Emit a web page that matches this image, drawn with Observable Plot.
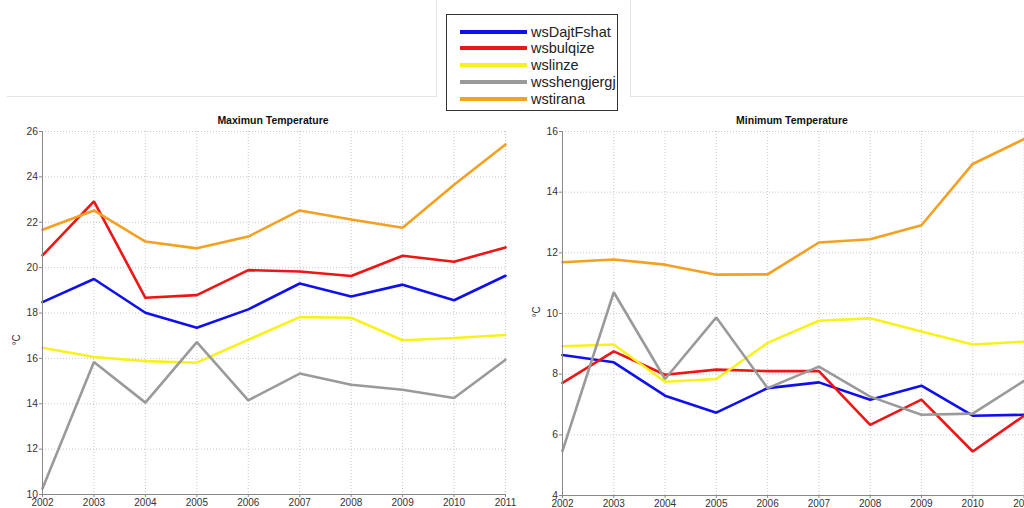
<!DOCTYPE html>
<html>
<head>
<meta charset="utf-8">
<script src="https://cdn.jsdelivr.net/npm/d3@7"></script>
<script src="https://cdn.jsdelivr.net/npm/@observablehq/plot@0.6"></script>
<style>
  html, body { margin:0; padding:0; width:1024px; height:508px; overflow:hidden; background:#fff; font-family:"Liberation Sans", Arial, sans-serif; }
  .abs { position:absolute; }
  .title { position:absolute; font-weight:bold; font-size:10.5px; color:#111; transform:translate(-50%,-50%); white-space:nowrap; }
  .unit { position:absolute; font-size:10px; color:#333; transform:translate(-50%,-50%) rotate(-90deg); white-space:nowrap; }
  #legend { position:absolute; left:446px; top:14px; width:172px; height:97px; border:1.6px solid #333; background:#fff; box-sizing:border-box; }
  .lrow { position:absolute; left:13px; height:17px; display:flex; align-items:center; }
  .lsw { width:67px; height:4px; margin-right:4px; }
  .ltx { font-size:14.5px; color:#222; }
</style>
</head>
<body>
<script>
const years = [2002, 2003, 2004, 2005, 2006, 2007, 2008, 2009, 2010, 2011];
const stations = ["wsDajtFshat", "wsbulqize", "wslinze", "wsshengjergj", "wstirana"];
const stationColors = ["#1010ee", "#ee1515", "#f7f21a", "#9a9a9a", "#f5a020"];

// Maximum temperature (°C)
const maxDajtFshat  = [18.48, 19.50, 18.01, 17.35, 18.16, 19.30, 18.73, 19.25, 18.56, 19.64];
const maxBulqize    = [20.54, 22.92, 18.67, 18.79, 19.89, 19.83, 19.63, 20.52, 20.26, 20.89];
const maxLinze      = [16.47, 16.06, 15.88, 15.81, 16.82, 17.82, 17.79, 16.80, 16.90, 17.03];
const maxShengjergj = [10.26, 15.84, 14.05, 16.72, 14.15, 15.33, 14.84, 14.62, 14.25, 15.94];
const maxTirana     = [21.67, 22.52, 21.15, 20.85, 21.37, 22.52, 22.12, 21.76, 23.65, 25.43];

// Minimum temperature (°C)
const minDajtFshat  = [8.63, 8.39, 7.29, 6.73, 7.54, 7.73, 7.16, 7.62, 6.63, 6.66];
const minBulqize    = [7.71, 8.75, 7.98, 8.15, 8.10, 8.10, 6.33, 7.16, 5.45, 6.63];
const minLinze      = [8.92, 8.98, 7.75, 7.84, 9.03, 9.76, 9.84, 9.41, 8.98, 9.07];
const minShengjergj = [5.47, 10.70, 7.84, 9.87, 7.54, 8.25, 7.26, 6.66, 6.70, 7.78];
const minTirana     = [11.69, 11.78, 11.61, 11.28, 11.29, 12.34, 12.45, 12.91, 14.93, 15.75];

const maxTicks = [10, 12, 14, 16, 18, 20, 22, 24, 26];
const minTicks = [4, 6, 8, 10, 12, 14, 16];

function toRows(seriesList) {
  const rows = [];
  seriesList.forEach((vals, si) => {
    vals.forEach((v, i) => rows.push({station: stations[si], year: years[i], value: v}));
  });
  return rows;
}
const maxRows = toRows([maxDajtFshat, maxBulqize, maxLinze, maxShengjergj, maxTirana]);
const minRows = toRows([minDajtFshat, minBulqize, minLinze, minShengjergj, minTirana]);

function panel(rows, yTicks, opts) {
  const yDomain = [yTicks[0], yTicks[yTicks.length - 1]];
  return Plot.plot({
    width: opts.width, height: opts.height,
    marginLeft: opts.ml, marginRight: opts.mr, marginTop: opts.mt, marginBottom: opts.mb,
    style: {fontFamily: '"Liberation Sans", Arial, sans-serif', fontSize: "10.5px", color: "#333", background: "transparent", overflow: "visible"},
    x: {domain: [years[0], years[years.length - 1]], label: null},
    y: {domain: yDomain, label: null},
    color: {domain: stations, range: stationColors},
    marks: [
      Plot.gridX(years, {stroke: "#c8c8c8", strokeOpacity: 1, strokeDasharray: "1,2"}),
      Plot.gridY(yTicks, {stroke: "#c8c8c8", strokeOpacity: 1, strokeDasharray: "1,2"}),
      Plot.line(rows, {x: "year", y: "value", z: "station", stroke: "station", strokeWidth: 2.6, strokeLinejoin: "miter"}),
      Plot.ruleX([years[0]], {stroke: "#888", strokeWidth: 1}),
      Plot.ruleY([yDomain[0]], {stroke: "#888", strokeWidth: 1}),
      Plot.axisX(years, {tickFormat: "d", tickSize: 3, tickPadding: 1, stroke: "#888", fill: "#333", fontSize: 10, label: null}),
      Plot.axisY(yTicks, {tickSize: 3, tickPadding: 1.5, stroke: "#888", fill: "#333", fontSize: 10.3, label: null})
    ]
  });
}

const left = panel(maxRows, maxTicks, {width: 520, height: 408, ml: 42, mr: 15, mt: 31, mb: 14});
left.style.position = "absolute"; left.style.left = "0px"; left.style.top = "100px";
document.body.appendChild(left);

const right = panel(minRows, minTicks, {width: 540, height: 408, ml: 52, mr: 26.5, mt: 31, mb: 13});
right.style.position = "absolute"; right.style.left = "510px"; right.style.top = "100px";
document.body.appendChild(right);

// faint frame lines behind the legend
function line(l, t, w, h) {
  const d = document.createElement("div");
  d.className = "abs";
  Object.assign(d.style, {left: l + "px", top: t + "px", width: w + "px", height: h + "px", background: "#e4e4e4"});
  document.body.appendChild(d);
}
line(7, 96, 430, 1); line(436, 0, 1, 97);
line(630, 96, 394, 1); line(630, 0, 1, 97);

// titles
function addText(cls, txt, x, y) {
  const d = document.createElement("div");
  d.className = cls; d.textContent = txt;
  d.style.left = x + "px"; d.style.top = y + "px";
  document.body.appendChild(d);
}
addText("title", "Maximun Temperature", 273, 120);
addText("title", "Minimum Temperature", 792, 120);
addText("unit", "°C", 16, 340);
addText("unit", "°C", 536, 312);

// legend
const lg = document.createElement("div");
lg.id = "legend";
stations.forEach((s, i) => {
  const r = document.createElement("div");
  r.className = "lrow";
  r.style.top = (8 + i * 16.9) + "px";
  const sw = document.createElement("div");
  sw.className = "lsw"; sw.style.background = stationColors[i];
  const tx = document.createElement("span");
  tx.className = "ltx"; tx.textContent = s;
  r.appendChild(sw); r.appendChild(tx);
  lg.appendChild(r);
});
document.body.appendChild(lg);
</script>
</body>
</html>
